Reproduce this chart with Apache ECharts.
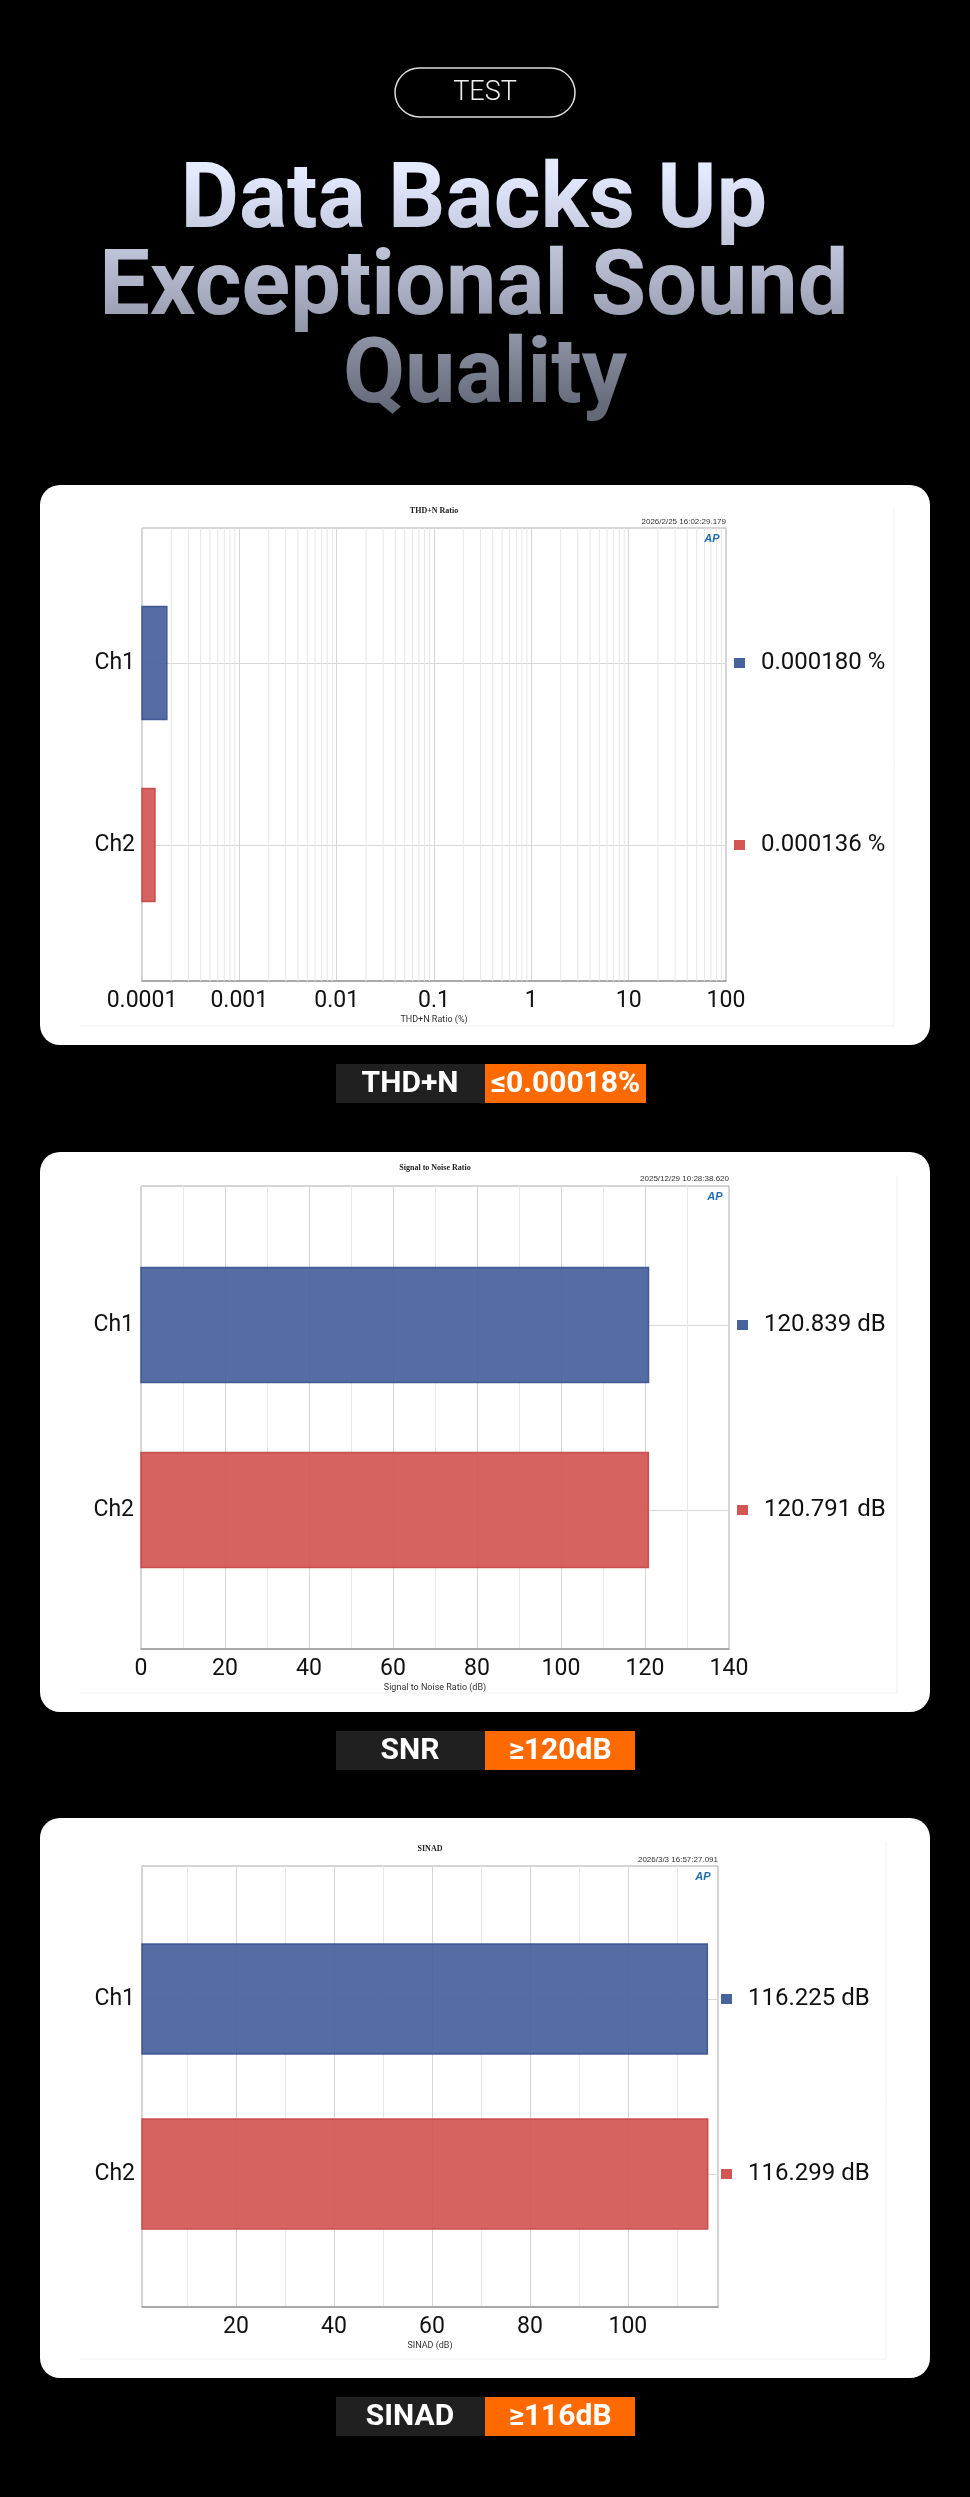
<!DOCTYPE html>
<html>
<head>
<meta charset="utf-8">
<title>Data Backs Up Exceptional Sound Quality</title>
<script src="https://cdn.jsdelivr.net/npm/echarts@6/dist/echarts.min.js"></script>
<style>
    html, body { margin: 0; padding: 0; background: #000; }
    #main { width: 970px; height: 2497px; }
</style>
</head>
<body>
<div id="main"></div>
<script type="text/javascript">
    // values
    var channels = ['Ch1', 'Ch2'];
    var thdnValues = [0.000180, 0.000136];
    var snrValues = [120.839, 120.791];
    var sinadValues = [116.225, 116.299];

    var thdnTicks = [0.0001, 0.001, 0.01, 0.1, 1, 10, 100];
    var snrTicks = [0, 20, 40, 60, 80, 100, 120, 140];
    var sinadTicks = [20, 40, 60, 80, 100];
    var sinadGridLines = [10, 20, 30, 40, 50, 60, 70, 80, 90, 100, 110];

    var FONT = 'Roboto, "Noto Sans", sans-serif';
    var barFill = ['#48629c', '#d35655'];
    var barEdge = ['#3a5491', '#c64847'];

    // minor gridlines of the log axis (2..9 inside each decade)
    var thdnMinor = [];
    for (var d = 0; d < thdnTicks.length - 1; d++) {
        for (var m = 2; m <= 9; m++) {
            thdnMinor.push(+(thdnTicks[d] * m).toPrecision(3));
        }
    }

    var panels = [{
        title: 'THD+N Ratio', stamp: '2026/2/25 16:02:29.179', axisName: 'THD+N Ratio (%)',
        values: thdnValues, unit: ' %', digits: 6,
        frame: {left: 142, top: 528, width: 584, height: 453},
        band: {top: 663, height: 182}, barH: 113, rightMargin: 8,
        card: 485, stampY: 522, titleY: 511, nameGap: 34, logo: [712, 539],
        x: {type: 'log', logBase: 10, min: 0.0001, max: 100, splitNumber: 6}
    }, {
        title: 'Signal to Noise Ratio', stamp: '2025/12/29 10:28:38.620', axisName: 'Signal to Noise Ratio (dB)',
        values: snrValues, unit: ' dB', digits: 3,
        frame: {left: 141, top: 1186, width: 588, height: 463},
        band: {top: 1325, height: 185}, barH: 115, rightMargin: 8,
        card: 1152, stampY: 1179, titleY: 1168, nameGap: 34, logo: [715, 1197],
        x: {type: 'value', min: snrTicks[0], max: snrTicks[snrTicks.length - 1], interval: 20}
    }, {
        title: 'SINAD', stamp: '2026/3/3 16:57:27.091', axisName: 'SINAD (dB)',
        values: sinadValues, unit: ' dB', digits: 3,
        frame: {left: 142, top: 1866, width: 576, height: 441},
        band: {top: 1999, height: 175}, barH: 110, rightMargin: 3,
        card: 1818, stampY: 1860, titleY: 1849, nameGap: 34, logo: [703, 1877],
        x: {type: 'value', min: 0.8, max: 118.4}
    }];

    var grid = [], xAxis = [], yAxis = [], series = [], graphic = [];

    // cards
    panels.forEach(function (p) {
        graphic.push({
            type: 'rect', z: -10, silent: true,
            shape: {x: 40, y: p.card, width: 890, height: 560, r: 20},
            style: {fill: '#fff'}
        });
        // faint edge of the pasted screenshot
        graphic.push({
            type: 'polyline', z: -9, silent: true,
            shape: {points: [[80, p.card + 541], [p.frame.left + p.frame.width + 168, p.card + 541], [p.frame.left + p.frame.width + 168, p.card + 24]]},
            style: {stroke: '#f0f0f0', lineWidth: 1, fill: null}
        });
        var cx = p.frame.left + p.frame.width / 2;
        graphic.push({
            type: 'text', z: 10, silent: true, x: cx, y: p.titleY,
            style: {text: p.title, fill: '#222', font: 'bold 8px "Liberation Serif", serif', align: 'center', verticalAlign: 'middle'}
        });
        graphic.push({
            type: 'text', z: 10, silent: true, x: p.frame.left + p.frame.width, y: p.stampY,
            style: {text: p.stamp, fill: '#333', font: '8px "Liberation Sans", sans-serif', align: 'right', verticalAlign: 'middle'}
        });
        graphic.push({
            type: 'text', z: 10, silent: true, x: p.logo[0], y: p.logo[1],
            style: {text: 'AP', fill: '#1f6cb0', font: 'italic bold 11px "Liberation Sans", sans-serif', align: 'center', verticalAlign: 'middle'}
        });
    });

    panels.forEach(function (p, i) {
        var f = p.frame;
        var xMin = p.x.min;
        grid.push({
            left: f.left, top: f.top, width: f.width, height: f.height,
            show: true, borderColor: '#ababab', borderWidth: 1, backgroundColor: 'transparent'
        });
        grid.push({left: f.left, top: p.band.top, width: f.width, height: p.band.height});

        var frameX = echarts.util.extend({
            gridIndex: 2 * i,
            name: p.axisName, nameLocation: 'middle', nameGap: p.nameGap,
            nameTextStyle: {fontSize: 9, color: '#333', fontFamily: FONT},
            axisLine: {show: true, lineStyle: {color: '#9a9a9a', width: 1.5}},
            axisTick: {show: false},
            axisLabel: {margin: 9, fontSize: 23, color: '#111', fontFamily: FONT},
            splitLine: {show: true, lineStyle: {color: '#d6d6d6', width: 1}}
        }, p.x);
        if (i === 0) {
            frameX.axisLabel.formatter = function (v) { return String(+(+v).toPrecision(6)); };
        }
        if (i === 1) {
            frameX.minorTick = {show: false, splitNumber: 2};
            frameX.minorSplitLine = {show: true, lineStyle: {color: '#e8e8e8', width: 1}};
        }
        if (i === 2) {
            frameX.axisTick = {show: false, customValues: sinadGridLines};
            frameX.axisLabel.customValues = sinadTicks;
            frameX.splitLine.lineStyle.color = ['#e8e8e8', '#d6d6d6'];
        }
        xAxis.push(frameX);
        xAxis.push(echarts.util.extend({gridIndex: 2 * i + 1, show: false}, p.x));

        yAxis.push({gridIndex: 2 * i, type: 'value', min: 0, max: 1, show: false});
        yAxis.push({
            gridIndex: 2 * i + 1, type: 'category', data: channels, inverse: true, boundaryGap: false,
            axisLine: {show: false}, axisTick: {show: false},
            axisLabel: {margin: 7, fontSize: 23, color: '#111', fontFamily: FONT},
            splitLine: {show: true, lineStyle: {color: '#d9d9d9', width: 1}}
        });
        yAxis.push({
            gridIndex: 2 * i + 1, type: 'category', data: channels, inverse: true, boundaryGap: false,
            position: 'right',
            axisLine: {show: false}, axisTick: {show: false}, splitLine: {show: false},
            axisLabel: {
                margin: p.rightMargin, align: 'left',
                formatter: function (v, idx) {
                    return '{s' + idx + '|}{t|' + p.values[idx].toFixed(p.digits) + p.unit + '}';
                },
                rich: {
                    s0: {width: 11, height: 10, backgroundColor: barFill[0]},
                    s1: {width: 11, height: 10, backgroundColor: barFill[1]},
                    t: {fontSize: 24, color: '#111', fontFamily: FONT, padding: [0, 0, 0, 16]}
                }
            }
        });

        if (i === 0) {
            // minor decade lines, placed through the frame's log axis
            series.push({
                type: 'custom', silent: true, z: 1,
                xAxisIndex: 0, yAxisIndex: 0,
                encode: {x: 0},
                data: thdnMinor.map(function (v) { return [v]; }),
                renderItem: function (params, api) {
                    var top = api.coord([api.value(0), 1]);
                    var bottom = api.coord([api.value(0), 0]);
                    return {
                        type: 'line',
                        shape: {x1: top[0], y1: top[1], x2: bottom[0], y2: bottom[1]},
                        style: {stroke: '#e6e6e6', lineWidth: 1}
                    };
                }
            });
        }

        series.push({
            type: 'custom', name: p.title,
            xAxisIndex: 2 * i + 1, yAxisIndex: 3 * i + 1,
            encode: {x: 0, y: 1},
            data: p.values.map(function (v, k) { return [v, k]; }),
            renderItem: function (params, api) {
                var cat = api.value(1);
                var a = api.coord([xMin, cat]);
                var b = api.coord([api.value(0), cat]);
                return {
                    type: 'rect',
                    shape: {x: a[0], y: a[1] - p.barH / 2, width: b[0] - a[0], height: p.barH},
                    style: {fill: barFill[params.dataIndex], stroke: barEdge[params.dataIndex], lineWidth: 1.5, opacity: 0.93}
                };
            }
        });
    });

    // header
    graphic.push({
        type: 'rect', silent: true, shape: {x: 395, y: 68, width: 180, height: 49, r: 24.5},
        style: {fill: null, stroke: '#dcdcdc', lineWidth: 1.5}
    });
    graphic.push({
        type: 'text', silent: true, x: 485, y: 93,
        style: {text: 'TEST', fill: '#eeeeee', font: '300 27px Roboto, sans-serif', align: 'center', verticalAlign: 'middle'}
    });
    // headline drawn white, then tinted by a gradient rect in multiply mode (black stays black)
    graphic.push({
        type: 'text', silent: true, z: 1, x: 485, y: 291.5,
        style: {
            text: 'Data Backs Up \nExceptional Sound \nQuality', fill: '#ffffff',
            font: 'bold 90px Roboto, sans-serif', lineHeight: 87.5,
            align: 'center', verticalAlign: 'middle'
        }
    });
    graphic.push({
        type: 'rect', silent: true, z: 2,
        shape: {x: 40, y: 140, width: 890, height: 300},
        style: {
            blend: 'multiply',
            fill: new echarts.graphic.LinearGradient(0, 172, 0, 410, [
                {offset: 0, color: '#e4eaff'},
                {offset: 0.5, color: '#a9aec2'},
                {offset: 1, color: '#646978'}
            ], true)
        }
    });

    // spec badges under each card
    var badges = [
        ['THD+N', '\u22640.00018%', 1064, 646],
        ['SNR', '\u2265120dB', 1731, 635],
        ['SINAD', '\u2265116dB', 2397, 635]
    ];
    badges.forEach(function (b) {
        graphic.push({type: 'rect', silent: true, shape: {x: 336, y: b[2], width: 149, height: 39}, style: {fill: '#202020'}});
        graphic.push({type: 'rect', silent: true, shape: {x: 485, y: b[2], width: b[3] - 485, height: 39}, style: {fill: '#ff6a00'}});
        graphic.push({
            type: 'text', silent: true, x: 410, y: b[2] + 20,
            style: {text: b[0], fill: '#fff', font: 'bold 30px Roboto, sans-serif', align: 'center', verticalAlign: 'middle'}
        });
        graphic.push({
            type: 'text', silent: true, x: (485 + b[3]) / 2, y: b[2] + 20,
            style: {text: b[1], fill: '#fff', font: 'bold 30px Roboto, sans-serif', align: 'center', verticalAlign: 'middle'}
        });
    });

    var myChart = echarts.init(document.getElementById('main'));
    myChart.setOption({
        backgroundColor: '#000',
        animation: false,
        grid: grid,
        xAxis: xAxis,
        yAxis: yAxis,
        series: series,
        graphic: graphic
    });
</script>
</body>
</html>
